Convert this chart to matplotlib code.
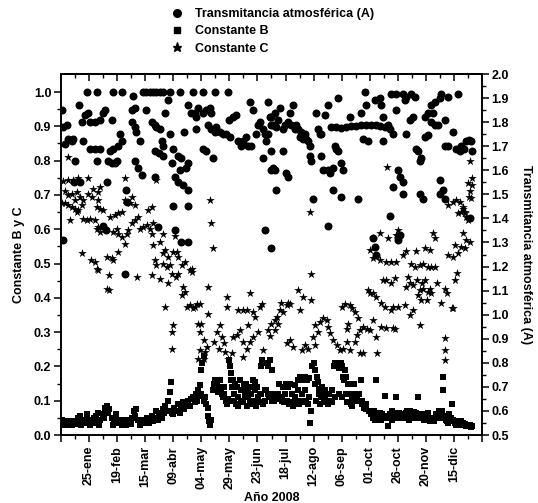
import matplotlib
matplotlib.use("Agg")
import matplotlib.pyplot as plt
from matplotlib.lines import Line2D
from matplotlib.ticker import FormatStrFormatter
import numpy as np

plt.rcParams['font.family'] = ['Liberation Sans', 'DejaVu Sans']
plt.rcParams['font.weight'] = 'bold'
plt.rcParams['axes.labelweight'] = 'bold'

# ---------------- data (day of year 2008, value) ----------------
tick_days = [25, 50, 75, 100, 125, 150, 175, 200, 225, 250, 275, 300, 325, 350]
tick_labels = ['25-ene', '19-feb', '15-mar', '09-abr', '04-may', '29-may', '23-jun',
               '18-jul', '12-ago', '06-sep', '01-oct', '26-oct', '20-nov', '15-dic']

# Transmitancia atmosferica (A) -> right axis
trans_pts = [
    (1, 1.85), (2, 1.78), (5, 1.79), (3.5, 1.71), (6.5, 1.73), (9.5, 1.72), (11, 1.73), (12.5, 1.64),
    (2, 1.31), (16, 1.87), (18.4, 1.80), (21.4, 1.83), (24.4, 1.84), (20, 1.72),
    (23, 1.925), (32, 1.925), (25.8, 1.80), (30.3, 1.80), (34.7, 1.81), (37.7, 1.84), (39.2, 1.85),
    (26, 1.69), (30, 1.69), (35, 1.69), (32, 1.64), (40.7, 1.55),
    (46.6, 1.925), (54, 1.925), (45, 1.81), (43.7, 1.68), (46.6, 1.69), (51, 1.70), (54, 1.72),
    (52.6, 1.75), (42, 1.64), (45, 1.63), (48, 1.63), (50, 1.64),
    (58, 1.52), (58.5, 1.47), (57, 1.17), (64.4, 1.91), (63, 1.85), (66, 1.86), (63, 1.80), (66, 1.78),
    (67, 1.76), (70, 1.72), (66, 1.64), (69, 1.61), (72, 1.58),
    (73, 1.925), (76, 1.925), (79, 1.925), (82, 1.925), (85, 1.925), (88, 1.925), (76, 1.85),
    (81, 1.80), (84, 1.79), (85, 1.78), (88, 1.77), (90, 1.72), (91, 1.70), (84, 1.68), (87, 1.67),
    (91, 1.66), (12, 1.55), (17, 1.55), (37, 1.37), (40, 1.35), (86, 1.365), (83.5, 1.57),
    (91, 1.925), (97, 1.925), (106, 1.925), (117.6, 1.925), (126.5, 1.925), (137, 1.925), (148.7, 1.925),
    (95.3, 1.89), (92.3, 1.84), (96.8, 1.75), (110, 1.76), (120.5, 1.77), (113, 1.87), (116, 1.84),
    (119, 1.84), (122, 1.86), (120.5, 1.82), (126.5, 1.84), (129.5, 1.85), (132.4, 1.86), (134, 1.84),
    (131, 1.79), (134, 1.77), (137, 1.76), (138.4, 1.78), (141.3, 1.76), (144.3, 1.75), (147.3, 1.75),
    (150.2, 1.74), (150, 1.81), (153, 1.82), (156, 1.83), (157.7, 1.72), (162, 1.72), (165, 1.74),
    (160.6, 1.70), (168, 1.885), (171, 1.85), (174, 1.75), (175.5, 1.79), (177, 1.80), (180, 1.77),
    (181.4, 1.75), (183, 1.72), (184.4, 1.75), (187.3, 1.79), (186, 1.82), (166.6, 1.70), (169.5, 1.70),
    (180, 1.65), (187.3, 1.60), (126.5, 1.69), (129.5, 1.68), (135.4, 1.65), (104.2, 1.66), (107.2, 1.65),
    (113, 1.63), (105.7, 1.60), (111.6, 1.61), (101.2, 1.57), (104.2, 1.55), (108.7, 1.54), (113, 1.52),
    (99.8, 1.45), (113, 1.45), (101.2, 1.35), (107.2, 1.30), (113, 1.30), (181.4, 1.35), (187.3, 1.275),
    (99, 1.63), (100, 1.69),
    (184, 1.885), (194.8, 1.86), (206.7, 1.87), (203.7, 1.84), (190.3, 1.84), (187.4, 1.82), (193.3, 1.81),
    (199.2, 1.79), (202.2, 1.80), (205.2, 1.79), (208.2, 1.77), (211.1, 1.77), (214.1, 1.76), (217, 1.75),
    (218.5, 1.73), (212.6, 1.74), (215.6, 1.73), (220, 1.72), (209.6, 1.79), (197.8, 1.77), (191.8, 1.78),
    (188.9, 1.79), (221.5, 1.70), (227.5, 1.84), (229, 1.77), (232, 1.75), (230.4, 1.75), (235, 1.83),
    (237.8, 1.87), (246.7, 1.90), (240.8, 1.78), (245.3, 1.78), (249.7, 1.775), (254.2, 1.78),
    (258.6, 1.785), (263.1, 1.785), (267.5, 1.79), (272, 1.79), (276.4, 1.79), (281, 1.79), (284, 1.785),
    (257.2, 1.82), (267.5, 1.84), (270.5, 1.925), (272, 1.87), (279.4, 1.89), (269, 1.73), (273.5, 1.72),
    (243.8, 1.70), (246.7, 1.68), (245.3, 1.69), (221.5, 1.66), (223, 1.64), (232, 1.66), (233.4, 1.60),
    (237.8, 1.60), (239.3, 1.59), (242.3, 1.61), (251, 1.60), (249.7, 1.63), (197.8, 1.68), (187.4, 1.68),
    (188.9, 1.61), (190.3, 1.60), (200.7, 1.59), (202.2, 1.57), (191.8, 1.52), (224.5, 1.48), (242.3, 1.52),
    (249.7, 1.49), (264.6, 1.48), (237.8, 1.37),
    (283.8, 1.90), (285.3, 1.87), (294.2, 1.915), (298.7, 1.915), (304.6, 1.915), (307.6, 1.905),
    (312, 1.915), (315, 1.905), (306, 1.89), (298.7, 1.85), (286.8, 1.82), (291.3, 1.79), (295.7, 1.75),
    (288.3, 1.78), (292.7, 1.77), (310.5, 1.81), (313.5, 1.82), (307.6, 1.75), (286.8, 1.72), (324, 1.82),
    (327, 1.84), (330, 1.87), (333, 1.885), (337.3, 1.90), (338.8, 1.915), (344.7, 1.905), (353.6, 1.915),
    (330, 1.80), (333, 1.79), (335.8, 1.79), (331.3, 1.84), (341.7, 1.81), (349.2, 1.76), (316.5, 1.69),
    (318, 1.68), (319.5, 1.64), (321, 1.65), (300.2, 1.60), (301.7, 1.57), (304.6, 1.55), (295.7, 1.53),
    (304.6, 1.50), (337.3, 1.56), (340.2, 1.52), (337.3, 1.50), (341.7, 1.48), (319.5, 1.50), (322.4, 1.48),
    (292.7, 1.41), (301.7, 1.33), (300.2, 1.31), (356, 1.70), (359, 1.69), (361, 1.72), (363, 1.725),
    (365, 1.72), (366, 1.68), (364, 1.40), (278, 1.32), (280, 1.28), (281, 1.25), (342, 1.70), (345, 1.70),
    (352, 1.69), (355, 1.68), (324, 1.74), (327, 1.745),
]

# Constante B -> left axis
const_b_pts = [
    (1, .045), (3, .035), (5, .04), (7, .03), (9, .038), (11, .042), (13, .035), (15, .05), (17, .055),
    (19, .04), (21, .045), (23, .06), (25, .045), (27, .038), (29, .05), (31, .055), (33, .065), (35, .045),
    (37, .06), (39, .08), (41, .085), (43, .075), (45, .05), (47, .04), (49, .06), (51, .035), (53, .045),
    (55, .04), (57, .035), (59, .045), (61, .04), (63, .05), (65, .07), (67, .075), (69, .045), (71, .035),
    (73, .045), (75, .04), (77, .05), (79, .045), (81, .055), (83, .05), (85, .07), (87, .06), (89, .065),
    (2, .03), (6, .028), (10, .03), (14, .032), (18, .03), (22, .035), (26, .03), (30, .035), (34, .03),
    (38, .05), (42, .065), (46, .03), (50, .045), (54, .03), (58, .03), (62, .032), (66, .055), (70, .03),
    (74, .035), (78, .035), (82, .04), (86, .045), (90, .05),
    (91, .075), (92, .065), (93, .085), (95, .1), (96, .07), (97, .125), (98, .155), (99, .065), (100, .06),
    (101, .08), (103, .07), (104, .09), (106, .065), (107, .08), (109, .095), (110, .075), (112, .09),
    (113, .1), (115, .085), (116, .105), (118, .11), (119, .095), (120, .12), (121, .1),
    (122, .13), (123, .115), (124, .145), (125, .19), (126, .21), (127, .23), (128, .11), (129, .09),
    (131, .055), (132, .04), (133, .03), (134, .045), (135, .13), (136, .15), (137, .16), (138, .14),
    (139, .15), (140, .125), (141, .13), (142, .16), (143, .12), (144, .11), (145, .14), (147, .1),
    (148, .09), (149, .105), (150, .22), (150.5, .2), (151, .18), (151.5, .16), (152, .14),
    (153, .16), (154, .1), (155, .15), (156, .09), (157, .14), (158, .085), (159, .16), (160, .1),
    (161, .13), (162, .095), (163, .145), (164, .11), (165, .15), (166, .085), (167, .135), (168, .1),
    (169, .14), (170, .09), (171, .16), (172, .1), (173, .155), (174, .085), (175, .14), (176, .095),
    (177, .12), (178, .2), (179, .22), (180, .09), (181, .21), (182, .1),
    (183, .13), (184, .2), (185, .11), (186, .22), (187, .12), (188, .19), (189, .115), (190, .1),
    (191, .12), (193, .11), (194, .15), (195, .105), (197, .1), (198, .14), (199, .095), (200, .15),
    (201, .1), (203, .09), (204, .15), (205, .095), (207, .085), (208, .145), (209, .1), (211, .16),
    (212, .09), (213, .17),
    (214, .1), (215, .16), (216, .095), (217, .17), (218, .1), (219, .16), (220, .09), (221, .165),
    (222, .035), (223, .07), (224, .2), (225, .21), (226, .19), (227, .1), (228, .17), (229, .155),
    (230, .135), (231, .09), (232, .11), (233, .12), (234, .095), (235, .13), (236, .1), (238, .09),
    (240, .1), (241, .095), (243, .2), (244, .21),
    (245, .2), (246, .21), (247, .2), (248, .195), (249, .21), (250, .2), (251, .17), (252, .16),
    (253, .19), (254, .17), (255, .095), (256, .15), (258, .09), (259, .085), (260, .1), (261, .15),
    (262, .12), (264, .11), (266, .1), (267, .16), (268, .09), (270, .08), (272, .075), (274, .07),
    (275, .07), (276, .06), (277, .065), (278, .05), (279, .055), (280, .045), (281, .16), (282, .06),
    (283, .05), (284, .055), (285, .045), (286, .06), (287, .05), (289, .115), (290, .055), (291, .025),
    (292, .05), (293, .06), (295, .045), (296, .065), (297, .05), (298, .11), (299, .06), (300, .05),
    (301, .065), (302, .055), (303, .06), (304, .05), (305, .06),
    (306, .05), (307, .065), (308, .055), (309, .06), (310, .045), (311, .07), (312, .055), (313, .05),
    (314, .06), (315, .05), (316, .065), (318, .11), (319, .055), (320, .06), (321, .05), (322, .055),
    (323, .045), (324, .06), (325, .05), (326, .055), (327, .045), (328, .05), (329, .04), (330, .05),
    (331, .045), (332, .04), (333, .05), (334, .06), (335, .055),
    (336, .06), (337, .05), (338, .065), (339, .07), (340, .17), (340.5, .13), (341, .055), (342, .05),
    (343, .045), (344, .04), (345, .035), (346, .06), (347, .05), (348, .09), (349, .045), (350, .04),
    (351, .035), (352, .03), (353, .04), (354, .035), (355, .03), (356, .04), (357, .03), (358, .035),
    (359, .028), (360, .032), (361, .025), (362, .03), (363, .025), (364, .028), (365, .022), (366, .025),
    (121.5, .11), (124.5, .12), (127.5, .1), (130.5, .08), (136.5, .14), (139.5, .14), (142.5, .135),
    (145.5, .12), (148.5, .1), (154.5, .12), (157.5, .11), (160.5, .13), (163.5, .12), (166.5, .11),
    (169.5, .12), (172.5, .13), (175.5, .11), (178.5, .12), (181.5, .13), (184.5, .12), (187.5, .1),
    (190.5, .11), (193.5, .12), (196.5, .11), (199.5, .12), (202.5, .14), (205.5, .12), (208.5, .11),
    (211.5, .13), (214.5, .12), (217.5, .13), (220.5, .11), (226.5, .15), (229.5, .12), (232.5, .14),
    (235.5, .11), (238.5, .12), (241.5, .13), (244.5, .11), (247.5, .12), (250.5, .11), (253.5, .12),
    (256.5, .12), (259.5, .11), (262.5, .1), (265.5, .12), (268.5, .1), (271.5, .09),
    (278.5, .07), (284.5, .065), (294.5, .07), (308.5, .07), (314.5, .068), (326.5, .065), (336.5, .07),
]

# Constante C -> left axis
const_c_pts = [
    (6.5, .81), (2, .74), (6.5, .743), (11, .743), (15.5, .748), (3.5, .71), (6.5, .70), (9.5, .704),
    (12.5, .684), (14, .709), (17, .694), (1, .675), (3.5, .675), (6.5, .67), (9.5, .665), (12.5, .66),
    (15.5, .655), (18.4, .67), (14, .65), (8, .626), (20, .684), (24.4, .704), (27.3, .694), (28.8, .718),
    (33.2, .709), (34.7, .723), (33, .684), (31.8, .665), (34.7, .66), (37.7, .655), (24.4, .748),
    (20, .631), (23, .626), (26, .631), (30, .626), (32, .602), (35, .592), (33, .607), (27, .51),
    (30, .505), (32, .485), (18.4, .53), (40.7, .52), (45, .515), (46.6, .51), (46.6, .592), (49.6, .602),
    (51, .587), (54, .578), (43.7, .636), (48, .641), (51, .646), (54, .65), (57, .684), (57, .748),
    (61.5, .675), (63, .694), (66, .67), (51, .534), (58.5, .587), (60, .597), (63, .617), (66, .626),
    (69, .636), (57, .558), (70.4, .602), (73.4, .607), (76.3, .612), (79.3, .602), (81, .587),
    (82.3, .617), (77.8, .655), (81, .665), (82.3, .553), (83.7, .51), (85, .495), (91, .53), (92.6, .54),
    (95.6, .52), (91, .5), (94, .49), (97, .495), (100, .534), (103, .534), (104.5, .52), (107.5, .495),
    (110.5, .505), (115, .48), (116.5, .485), (88, .563), (85, .743), (91, .587), (101.5, .58), (68, .46),
    (33, .48), (41, .427), (43, .422), (43, .466), (80.8, .466), (88, .456), (95.6, .442), (99, .47),
    (102, .46), (104, .47), (92.6, .374), (100, .32), (98.6, .30), (98.6, .25),
    (107.5, .408), (110.5, .417), (109, .432), (112, .374), (115, .379), (118, .369), (119.4, .374),
    (121, .383), (124, .383), (116.5, .476), (122, .325), (125, .325), (124, .30), (131, .354), (131, .432),
    (127, .277), (130, .257), (128.4, .243), (127, .223), (124, .248), (122.3, .223), (136, .272),
    (139, .30), (142, .32), (140.3, .252), (143.3, .286), (144.8, .267), (147.6, .403), (147.6, .374),
    (146, .243), (149, .223), (152, .238), (153.5, .286), (156.4, .291), (159.4, .306), (162.4, .272),
    (158, .364), (162.4, .364), (165.3, .364), (168.3, .413), (171.3, .36), (172.8, .345), (177.3, .374),
    (162.4, .228), (165.3, .252), (168.3, .272), (166.8, .32), (171.3, .286), (175.7, .30), (180.2, .248),
    (178.7, .383), (133, .685), (134, .618), (135.5, .545),
    (186, .29), (190.7, .305), (193.6, .325), (192, .345), (195, .364), (198, .36), (201, .38), (204, .383),
    (201, .267), (204, .277), (207, .257), (211.4, .422), (215.9, .403), (223, .393), (213, .364),
    (217.4, .262), (214.4, .247), (220.3, .252), (226.3, .262), (226.3, .32), (230.7, .33), (233.7, .34),
    (236.7, .335), (238.2, .316), (224.8, .286), (229.3, .30), (239.6, .296), (242.6, .277), (245.6, .262),
    (248.5, .248), (251.5, .252), (254.5, .272), (257.5, .248), (250, .374), (253, .383), (257.5, .379),
    (259, .369), (256, .325), (254.5, .31), (262, .359), (264.9, .34), (266.4, .306), (269.3, .316),
    (272.3, .31), (275.3, .306), (263.4, .291), (262, .272), (266.4, .238), (269.3, .238), (273.8, .422),
    (275.3, .413), (222, .65), (223, .47), (184.4, .306), (187.4, .325), (190.3, .335), (196.3, .384),
    (202.2, .384),
    (364, .80), (362.5, .734), (364, .71), (365.5, .69), (344.7, .67), (349.2, .68), (352.1, .685),
    (355.1, .68), (358.1, .665), (359.5, .646), (361, .636), (362.5, .627), (354, .647), (356, .65),
    (358, .66), (360, .65), (366, .73), (366, .75), (363, .695),
    (331.3, .588), (332.8, .573), (358.1, .588), (361, .568), (364, .564), (350.6, .554), (356.6, .549),
    (359.5, .544), (283.8, .588), (277.9, .573), (291.3, .573), (298.7, .583), (300.2, .598), (277.9, .515),
    (283.8, .51), (289.8, .505), (294.2, .505), (298.7, .505), (304.6, .525), (307.6, .535), (312, .5),
    (315, .491), (319.5, .495), (322.4, .5), (327, .491), (330, .491), (332.8, .491), (316.5, .535),
    (324, .544), (328.4, .54), (344.7, .525), (349.2, .52), (353.6, .53), (289.8, .452), (294.2, .442),
    (297.2, .457), (307.6, .432), (310.5, .442), (313.5, .437), (319.5, .423), (322.4, .427), (277.9, .413),
    (280.9, .403), (285.3, .384), (288.3, .374), (294.2, .364), (295.7, .374), (300.2, .374), (306.1, .379),
    (310.5, .35), (313.5, .364), (321, .394), (327, .418), (330, .413), (338.8, .384), (349.2, .37),
    (319.5, .32), (277.9, .335), (280.9, .287), (285.3, .316), (289.8, .311), (295.7, .311), (341.7, .282),
    (341.7, .248), (341.7, .219), (290, .78), (275, .54),
    (351, .451), (352.5, .471), (348, .369), (342, .427), (343.6, .413), (334.7, .442), (326, .393),
    (328.7, .427), (324.3, .451), (321.3, .442), (316.8, .451), (309.4, .461), (318.3, .408), (297.5, .31),
    (281.2, .238), (287, .451),
]

legend_labels = ['Transmitancia atmosférica (A)', 'Constante B', 'Constante C']

# ---------------- figure ----------------
W, H = 538, 503
fig = plt.figure(figsize=(W / 100, H / 100), dpi=100)
L, R, T, B = 61, 482, 74, 435
ax = fig.add_axes([L / W, 1 - B / H, (R - L) / W, (B - T) / H])
ax2 = ax.twinx()

ad, av = zip(*trans_pts)
bd, bv = zip(*const_b_pts)
cd, cv = zip(*const_c_pts)

ax.scatter(bd, bv, marker='s', s=24, color='black', linewidths=0, zorder=3)
ax.scatter(cd, cv, marker='*', s=42, color='black', linewidths=0, zorder=3)
ax2.scatter(ad, av, marker='o', s=33, color='black', linewidths=0, zorder=3)

ax.set_xlim(0, 375)
ax.set_ylim(0, 1.0525)
ax2.set_ylim(0.5, 2.0)

fs = 9
# x ticks
major = [0] + tick_days + [375]
ax.set_xticks(major)
ax.set_xticklabels([''] + tick_labels + [''], rotation=90, fontsize=fs)
ax.set_xticks(np.arange(12.5, 375, 25), minor=True)
ax.tick_params(axis='x', which='major', direction='out', length=5, width=1.1, pad=3)
ax.tick_params(axis='x', which='minor', direction='out', length=3, width=1.0)
top = ax.secondary_xaxis('top')
top.set_xticks(major)
top.set_xticks(np.arange(12.5, 375, 25), minor=True)
top.tick_params(axis='x', which='major', direction='in', length=5, width=1.1, labeltop=False)
top.tick_params(axis='x', which='minor', direction='in', length=3, width=1.0)
top.spines['top'].set_linewidth(1.2)

# left y ticks
ax.set_yticks(np.arange(0, 1.001, 0.1))
ax.set_yticks(np.arange(0.05, 1.05, 0.1), minor=True)
ax.yaxis.set_major_formatter(FormatStrFormatter('%.1f'))
ax.tick_params(axis='y', which='major', direction='out', length=5, width=1.1, labelsize=fs, pad=2)
ax.tick_params(axis='y', which='minor', direction='out', length=3, width=1.0)

# right y ticks
ax2.set_yticks(np.arange(0.5, 2.001, 0.1))
ax2.set_yticks(np.arange(0.55, 2.0, 0.1), minor=True)
ax2.yaxis.set_major_formatter(FormatStrFormatter('%.1f'))
ax2.tick_params(axis='y', which='major', direction='out', length=5, width=1.1, labelsize=fs, pad=2)
ax2.tick_params(axis='y', which='minor', direction='out', length=3, width=1.0)

for a in (ax, ax2):
    for s in a.spines.values():
        s.set_linewidth(1.2)

ax.set_ylabel('Constante B y C', fontsize=fs, labelpad=6)
ax2.set_ylabel('Transmitancia atmosférica (A)', fontsize=fs, rotation=270, labelpad=16)
ax.set_xlabel('Año 2008', fontsize=fs, labelpad=2)

handles = [
    Line2D([], [], linestyle='none', marker='o', markersize=5.5, color='black'),
    Line2D([], [], linestyle='none', marker='s', markersize=4.5, color='black'),
    Line2D([], [], linestyle='none', marker='*', markersize=6.5, color='black'),
]
fig.legend(handles, legend_labels, loc='upper left', bbox_to_anchor=(169 / W, 1 - 8 / H),
           frameon=False, fontsize=fs, handlelength=1.2, handletextpad=0.9,
           labelspacing=0.42, borderpad=0, borderaxespad=0)

fig.savefig('out.png', dpi=100)
